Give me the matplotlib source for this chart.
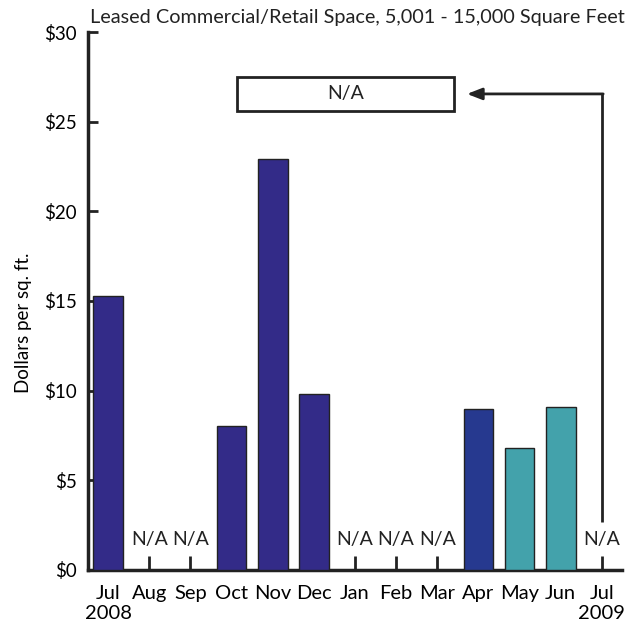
import matplotlib
matplotlib.use("Agg")
import matplotlib.pyplot as plt
import numpy as np

months = ["Jul\n2008", "Aug", "Sep", "Oct", "Nov", "Dec", "Jan", "Feb", "Mar", "Apr", "May", "Jun", "Jul\n2009"]
values = [15.3, None, None, 8.0, 22.9, 9.8, None, None, None, 9.0, 6.8, 9.1, None]
colors = ["#332b88", None, None, "#332b88", "#332b88", "#332b88", None, None, None,
          "#26398f", "#43a2ab", "#43a2ab", None]
yticks = [0, 5, 10, 15, 20, 25, 30]
ytick_labels = ["$0", "$5", "$10", "$15", "$20", "$25", "$30"]
title = "Leased Commercial/Retail Space, 5,001 - 15,000 Square Feet"
ylabel = "Dollars per sq. ft."

plt.rcParams['font.family'] = ['Lato', 'DejaVu Sans']

fig = plt.figure(figsize=(6.42, 6.29), dpi=100)
ax = fig.add_axes([0.137, 0.094, 0.832, 0.855])

x = np.arange(len(months))
for i, (v, c) in enumerate(zip(values, colors)):
    if v is None:
        ax.text(i, 1.67, "N/A", ha="center", va="center", fontsize=14, color="#222222")
    else:
        ax.bar(i, v, width=0.72, color=c, edgecolor="#222222", linewidth=1, zorder=3)

ax.set_xlim(-0.49, 12.49)
ax.set_ylim(0, 30)
ax.set_xticks(x)
ax.set_xticklabels(months, fontsize=14.5, linespacing=1.2)
ax.set_yticks(yticks)
ax.set_yticklabels(ytick_labels, fontsize=13.5)
ax.tick_params(axis="x", direction="in", length=10, width=2, color="#222222", pad=11)
ax.tick_params(axis="y", direction="in", length=7, width=2, color="#222222", pad=8)
for s in ["top", "right"]:
    ax.spines[s].set_visible(False)
for s in ["left", "bottom"]:
    ax.spines[s].set_linewidth(2.5)
    ax.spines[s].set_color("#222222")

ax.set_ylabel(ylabel, fontsize=13.5)
ax.yaxis.set_label_coords(-0.105, 0.46)
ax.text(0.505, 1.012, title, transform=ax.transAxes, ha="center", va="bottom", fontsize=14.3, color="#222222")

# N/A box with arrow from Jul 2009
ax.add_patch(plt.Rectangle((3.13, 25.6), 5.27, 1.9, facecolor="white", edgecolor="#222222", linewidth=2, zorder=4))
ax.text(5.765, 26.55, "N/A", ha="center", va="center", fontsize=14, color="#222222", zorder=5)
ax.plot([12, 12], [2.65, 26.55], color="#222222", linewidth=2, solid_capstyle="butt")
ax.annotate("", xy=(8.72, 26.55), xytext=(12.03, 26.55),
            arrowprops=dict(arrowstyle="-|>,head_length=0.9,head_width=0.35", color="#222222", lw=2,
                            shrinkA=0, shrinkB=0))

fig.savefig("out.png", dpi=100)
